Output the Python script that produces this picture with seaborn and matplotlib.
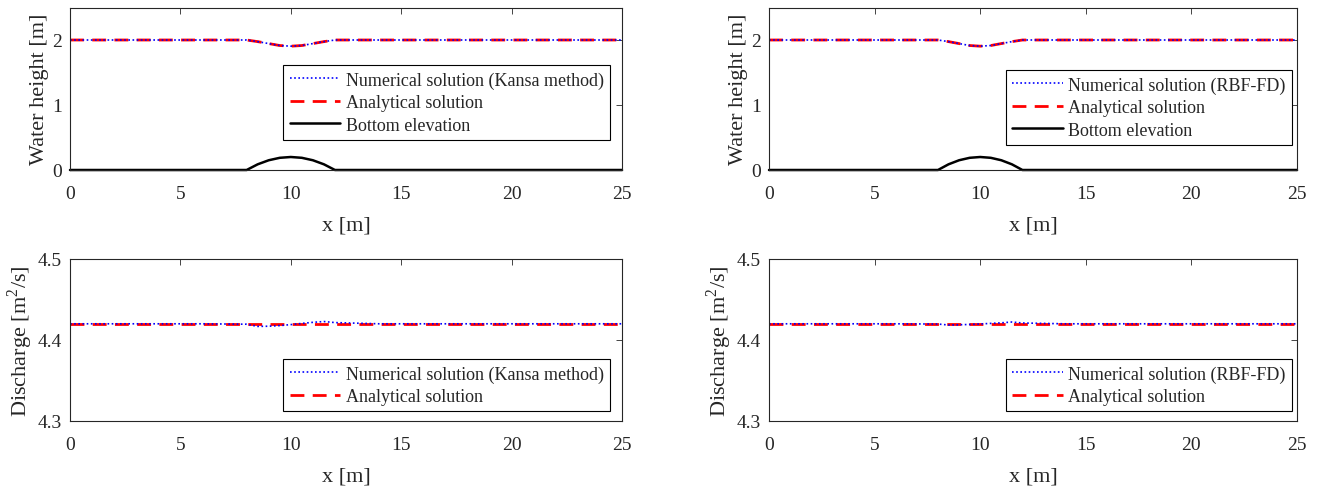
import matplotlib
matplotlib.use("Agg")
import matplotlib.pyplot as plt
import seaborn as sns
import pandas as pd

# ---- data ----
x_pts = [0, 2, 4, 6, 8, 8.5, 9, 9.5, 10, 10.5, 11, 11.5, 12, 14, 16, 18, 20, 22, 24, 25]
bottom_elev = [0, 0, 0, 0, 0, 0.0875, 0.15, 0.1875, 0.2, 0.1875, 0.15, 0.0875, 0, 0, 0, 0, 0, 0, 0, 0]
surf_analytical = [2.0, 2.0, 2.0, 2.0, 2.0, 1.975, 1.945, 1.915, 1.905, 1.915, 1.945, 1.975, 2.0, 2.0, 2.0, 2.0, 2.0, 2.0, 2.0, 2.0]
surf_kansa = [2.0, 2.0, 2.0, 2.0, 2.0, 1.975, 1.945, 1.915, 1.905, 1.915, 1.945, 1.975, 2.0, 2.0, 2.0, 2.0, 2.0, 2.0, 2.0, 2.0]
surf_rbffd = [2.0, 2.0, 2.0, 2.0, 2.0, 1.975, 1.945, 1.915, 1.905, 1.915, 1.945, 1.975, 2.0, 2.0, 2.0, 2.0, 2.0, 2.0, 2.0, 2.0]
q_analytical = [4.42] * 20
q_kansa = [4.42, 4.42, 4.42, 4.42, 4.4195, 4.4168, 4.4170, 4.4178, 4.4190, 4.4205, 4.4218, 4.4228, 4.4215, 4.42, 4.42, 4.42, 4.42, 4.42, 4.42, 4.42]
q_rbffd = [4.42, 4.42, 4.42, 4.42, 4.4197, 4.4185, 4.4188, 4.4192, 4.4198, 4.4205, 4.4212, 4.4222, 4.4210, 4.42, 4.42, 4.42, 4.42, 4.42, 4.42, 4.42]

x_ticks = [0, 5, 10, 15, 20, 25]
h_ticks = [0, 1, 2]
q_ticks = [4.3, 4.4, 4.5]

lbl_num_kansa = "Numerical solution (Kansa method)"
lbl_num_rbf = "Numerical solution (RBF-FD)"
lbl_ana = "Analytical solution"
lbl_bot = "Bottom elevation"

sns.set_style("white")
plt.rcParams['font.family'] = ['Liberation Serif', 'DejaVu Serif']
plt.rcParams['mathtext.fontset'] = 'custom'
plt.rcParams['mathtext.rm'] = 'Liberation Serif'

fig = plt.figure(figsize=(13.2, 4.89), dpi=100)
W, H = 1320, 489
def ax_at(x0, x1, ytop, ybot):
    return fig.add_axes([x0 / W, 1 - ybot / H, (x1 - x0) / W, (ybot - ytop) / H])

ax_tl = ax_at(70, 622, 8.5, 171)
ax_tr = ax_at(769, 1297, 8.5, 171)
ax_bl = ax_at(70, 622, 260, 422)
ax_br = ax_at(769, 1297, 260, 422)

TXT = '#262626'

def style(ax, yticks, ylim, ylabel, fmt):
    ax.set_xlim(0, 25)
    ax.set_ylim(*ylim)
    ax.set_xticks(x_ticks)
    ax.set_yticks(yticks)
    ax.set_yticklabels([fmt.format(t) for t in yticks])
    ax.tick_params(direction='in', top=True, right=True, length=4, width=0.6,
                   labelsize=14, colors=TXT)
    ax.tick_params(axis='x', pad=10.5)
    ax.tick_params(axis='y', pad=6)
    ax.set_xlabel("x [m]", fontsize=16, color=TXT, labelpad=10)
    ax.set_ylabel(ylabel, fontsize=16, color=TXT, labelpad=2)
    for s in ax.spines.values():
        s.set_linewidth(0.8)
        s.set_color(TXT)

def put_legend(ax, handles, labels, anchor):
    leg = ax.legend(handles, labels, loc='lower right', bbox_to_anchor=anchor,
                    fontsize=13, frameon=True, fancybox=False, edgecolor='black',
                    framealpha=1, handlelength=2.8, handletextpad=0.3,
                    labelspacing=0.3, borderpad=0.35, borderaxespad=0)
    leg.get_frame().set_linewidth(0.8)

top_cfg = [(ax_tl, surf_kansa, lbl_num_kansa, (0.978, 0.185)),
           (ax_tr, surf_rbffd, lbl_num_rbf, (0.990, 0.154))]
for ax, surf, lbl, anchor in top_cfg:
    df = pd.DataFrame({"x": x_pts, "num": surf, "ana": surf_analytical, "bot": bottom_elev})
    sns.lineplot(data=df, x="x", y="ana", ax=ax, color='red', linestyle=(0, (5, 3)), lw=2, label=lbl_ana)
    sns.lineplot(data=df, x="x", y="num", ax=ax, color='blue', linestyle=(0, (1, 1.5)), lw=1.2, label=lbl)
    sns.lineplot(data=df, x="x", y="bot", ax=ax, color='black', lw=1.8, label=lbl_bot, clip_on=False)
    style(ax, h_ticks, (0, 2.5), "Water height [m]", "{:g}")
    handles, labels = ax.get_legend_handles_labels()
    ax.get_legend().remove()
    order = [1, 0, 2]
    put_legend(ax, [handles[i] for i in order], [labels[i] for i in order], anchor)

bot_cfg = [(ax_bl, q_kansa, lbl_num_kansa, (0.978, 0.06)),
           (ax_br, q_rbffd, lbl_num_rbf, (0.990, 0.06))]
for ax, q, lbl, anchor in bot_cfg:
    df = pd.DataFrame({"x": x_pts, "num": q, "ana": q_analytical})
    sns.lineplot(data=df, x="x", y="ana", ax=ax, color='red', linestyle=(0, (5, 3)), lw=2, label=lbl_ana)
    sns.lineplot(data=df, x="x", y="num", ax=ax, color='blue', linestyle=(0, (1, 1.5)), lw=1.2, label=lbl)
    style(ax, q_ticks, (4.3, 4.5), "Discharge [m$^2$/s]", "{:.1f}")
    handles, labels = ax.get_legend_handles_labels()
    ax.get_legend().remove()
    put_legend(ax, [handles[1], handles[0]], [labels[1], labels[0]], anchor)

fig.savefig("out.png", dpi=100)
